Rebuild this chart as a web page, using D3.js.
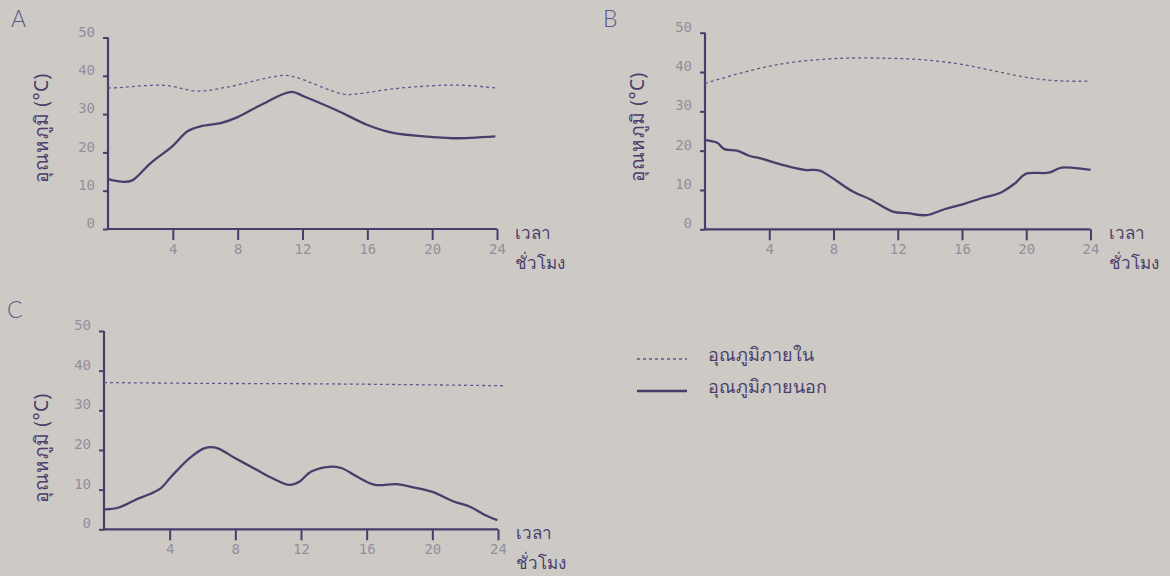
<!DOCTYPE html>
<html>
<head>
<meta charset="utf-8">
<script src="https://cdn.jsdelivr.net/npm/d3@7/dist/d3.min.js"></script>
<style>
  html, body { margin: 0; padding: 0; background: #cdcac5; }
  svg { display: block; }
</style>
</head>
<body>
<svg id="chart" width="1170" height="576"></svg>
<script>
// ---- data ----
const xTicks = [4, 8, 12, 16, 20, 24];
const yTicks = [0, 10, 20, 30, 40, 50];
const yLabel = "อุณหภูมิ (°C)";
const xLabel1 = "เวลา";
const xLabel2 = "ชั่วโมง";
const legendInside = "อุณภูมิภายใน";
const legendOutside = "อุณภูมิภายนอก";

// Panel A
const hoursA_out = [0, 0.97, 1.5, 2.6, 4.0, 4.9, 5.7, 7.0, 8.0, 9.4, 11.3, 12.1, 14.1, 16.05, 17.6, 20.1, 21.3, 23.9];
const tempA_out  = [13.0, 12.3, 12.7, 17.1, 21.7, 25.5, 26.8, 27.7, 29.2, 32.3, 35.8, 34.6, 31.0, 27.1, 25.1, 24.0, 23.7, 24.2];
const hoursA_in  = [0, 0.6, 3.5, 5.5, 7.3, 10.8, 11.6, 14.5, 15.4, 17.6, 20.5, 22, 24];
const tempA_in   = [36.8, 36.9, 37.5, 36.0, 37.0, 40.1, 39.6, 35.2, 35.3, 36.6, 37.5, 37.5, 36.8];

// Panel B
const hoursB_out = [0, 0.76, 1.2, 2.0, 2.75, 3.4, 4.8, 6.2, 7.1, 7.8, 9.2, 10.3, 11.7, 12.6, 13.8, 14.9, 16.1, 17.2, 18.4, 19.3, 19.97, 21.4, 22.2, 24];
const tempB_out  = [22.7, 22.0, 20.4, 20.0, 18.7, 18.1, 16.4, 15.1, 15.0, 13.4, 9.6, 7.6, 4.5, 4.1, 3.6, 5.1, 6.4, 7.9, 9.3, 11.7, 14.1, 14.4, 15.7, 15.1];
const hoursB_in  = [0, 2, 3.9, 5.7, 8.5, 11.3, 13.6, 15.9, 18.2, 20.4, 22.3, 24];
const tempB_in   = [37.1, 39.5, 41.4, 42.6, 43.5, 43.5, 43.1, 42.0, 40.1, 38.4, 37.7, 37.7];

// Panel C
const hoursC_out = [0.04, 0.9, 1.9, 2.8, 3.45, 4.1, 5.2, 6.1, 6.8, 8.0, 9.3, 10.2, 11.3, 11.9, 12.6, 13.9, 14.5, 15.4, 16.5, 17.8, 18.7, 19.96, 21.3, 22.3, 23.2, 23.96];
const tempC_out  = [5.0, 5.5, 7.4, 8.9, 10.3, 13.3, 17.9, 20.4, 20.6, 17.9, 15.0, 13.0, 11.2, 12.0, 14.5, 15.8, 15.4, 13.3, 11.2, 11.4, 10.7, 9.5, 7.0, 5.7, 3.6, 2.3];
const hoursC_in  = [0, 6, 12, 18, 24.3];
const tempC_in   = [37.0, 36.8, 36.7, 36.5, 36.2];

// ---- styles ----
const ink = "#4a3d6c";
const faint = "#948e9e";
const thaiFont = "'Noto Sans', 'DejaVu Sans', sans-serif";

const svg = d3.select("#chart");

const panels = [
  { title: "A", titleX: 11, titleY: 27,
    xr: [108, 497], yr: [229, 37.5],
    yLabX: 41, yLabY: 128,
    out: [hoursA_out, tempA_out], inn: [hoursA_in, tempA_in] },
  { title: "B", titleX: 603, titleY: 27,
    xr: [705, 1090.5], yr: [229.3, 32.7],
    yLabX: 637, yLabY: 127,
    out: [hoursB_out, tempB_out], inn: [hoursB_in, tempB_in] },
  { title: "C", titleX: 7, titleY: 318,
    xr: [104, 498], yr: [529.3, 331],
    yLabX: 41, yLabY: 448,
    out: [hoursC_out, tempC_out], inn: [hoursC_in, tempC_in] }
];

panels.forEach(p => {
  const x = d3.scaleLinear().domain([0, 24]).range(p.xr);
  const y = d3.scaleLinear().domain([0, 50]).range(p.yr);
  const g = svg.append("g");

  // title
  g.append("text").attr("x", p.titleX).attr("y", p.titleY)
    .attr("font-family", "Lato, 'Open Sans', sans-serif").attr("font-weight", 300)
    .attr("font-size", 23).attr("fill", "#605787").text(p.title);

  // y axis label
  g.append("text")
    .attr("transform", `translate(${p.yLabX},${p.yLabY}) rotate(-90)`)
    .attr("text-anchor", "middle").attr("dominant-baseline", "central")
    .attr("font-family", thaiFont).attr("font-size", 19).attr("fill", ink)
    .attr("letter-spacing", 0.5)
    .text(yLabel);

  // x axis
  const xAxis = d3.axisBottom(x).tickValues(xTicks).tickSize(11).tickPadding(4);
  const xg = g.append("g").attr("transform", `translate(0,${p.yr[0]})`).call(xAxis);
  xg.select(".domain").attr("stroke", ink).attr("stroke-width", 2.2).attr("d", `M${p.xr[0]},0H${p.xr[1]}`);
  xg.selectAll(".tick line").attr("stroke", ink).attr("stroke-width", 2);
  xg.selectAll(".tick text").attr("fill", faint).attr("font-size", 14)
    .attr("font-family", "'DejaVu Sans Mono', monospace");

  // y axis
  const yAxis = d3.axisLeft(y).tickValues(yTicks).tickSize(5).tickPadding(8);
  const yg = g.append("g").attr("transform", `translate(${p.xr[0]},0)`).call(yAxis);
  yg.select(".domain").attr("stroke", ink).attr("stroke-width", 2.2).attr("d", `M0,${p.yr[0]}V${p.yr[1]}`);
  yg.selectAll(".tick line").attr("stroke", ink).attr("stroke-width", 2);
  yg.selectAll(".tick text").attr("fill", faint).attr("font-size", 14)
    .attr("font-family", "'DejaVu Sans Mono', monospace").attr("dy", "-0.1em");

  // x axis labels
  g.append("text").attr("x", p.xr[1] + 18).attr("y", p.yr[0] + 10)
    .attr("font-family", thaiFont).attr("font-size", 17).attr("fill", ink).text(xLabel1);
  g.append("text").attr("x", p.xr[1] + 18).attr("y", p.yr[0] + 40)
    .attr("font-family", thaiFont).attr("font-size", 17).attr("fill", ink).text(xLabel2);

  // lines
  const line = d3.line().x(d => x(d[0])).y(d => y(d[1])).curve(d3.curveCatmullRom.alpha(0.5));
  const inData = d3.zip(p.inn[0], p.inn[1]);
  const outData = d3.zip(p.out[0], p.out[1]);
  g.append("path").datum(inData).attr("d", line).attr("fill", "none")
    .attr("stroke", "#62578a").attr("stroke-width", 1.3).attr("stroke-dasharray", "3,3");
  g.append("path").datum(outData).attr("d", line).attr("fill", "none")
    .attr("stroke", ink).attr("stroke-width", 2.3).attr("stroke-linejoin", "round");
});

// legend
const legendItems = [
  { label: legendInside, dash: "3,3", width: 1.3, y: 359 },
  { label: legendOutside, dash: null, width: 2.3, y: 391 }
];
const lx = d3.scaleLinear().domain([0, 1]).range([637, 687]);
const lg = svg.append("g");
legendItems.forEach(it => {
  lg.append("line").attr("x1", lx(0)).attr("x2", lx(1)).attr("y1", it.y).attr("y2", it.y)
    .attr("stroke", it.dash ? "#62578a" : ink).attr("stroke-width", it.width)
    .attr("stroke-dasharray", it.dash);
  lg.append("text").attr("x", 708).attr("y", it.y - 5).attr("dominant-baseline", "central")
    .attr("font-family", thaiFont).attr("font-size", 18).attr("fill", ink).text(it.label);
});
</script>
</body>
</html>
